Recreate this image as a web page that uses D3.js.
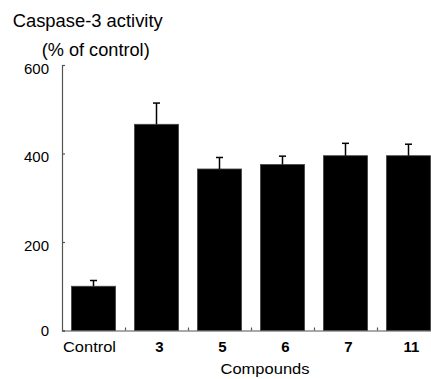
<!DOCTYPE html>
<html>
<head>
<meta charset="utf-8">
<script src="https://cdn.jsdelivr.net/npm/d3@7"></script>
<style>
  body { margin: 0; background: #fff; }
  svg { display: block; font-family: Arial, "Liberation Sans", sans-serif; }
</style>
</head>
<body>
<div id="chart"></div>
<script>
// data
const categories = ["Control", "3", "5", "6", "7", "11"];
const values = [100, 466, 365, 375, 395, 395];
const errors = [13, 48, 26, 19, 28, 26];
const yTicks = [0, 200, 400, 600];

const w = 431, h = 379;

let svg = d3.select("#chart")
    .append("svg")
    .attr("width", w)
    .attr("height", h);

// plot area (the right edge of the original runs off the page)
const x0 = 62, x1 = 440;
const y0 = 330.5, y1 = 65;

const x = d3.scaleBand()
    .domain(categories)
    .range([x0, x1])
    .paddingInner(0.3)
    .paddingOuter(0.15);

const xEdge = d3.scaleLinear()
    .domain([0, categories.length])
    .range([x0, x1]);

const y = d3.scaleLinear()
    .domain([0, 600])
    .range([y0, y1]);

// bars
svg.append("g")
    .selectAll("rect")
    .data(values)
    .join("rect")
    .attr("x", (d, i) => x(categories[i]))
    .attr("y", d => y(d))
    .attr("width", x.bandwidth())
    .attr("height", d => y(0) - y(d))
    .attr("fill", "#000")
    .attr("stroke", "#444")
    .attr("stroke-width", 0.8);

// error bars (upper only)
const err = svg.append("g")
    .attr("stroke", "#000")
    .attr("stroke-width", 1.5);

err.selectAll("line.v")
    .data(values)
    .join("line")
    .attr("class", "v")
    .attr("x1", (d, i) => x(categories[i]) + x.bandwidth() / 2)
    .attr("x2", (d, i) => x(categories[i]) + x.bandwidth() / 2)
    .attr("y1", d => y(d))
    .attr("y2", (d, i) => y(d + errors[i]));

err.selectAll("line.cap")
    .data(values)
    .join("line")
    .attr("class", "cap")
    .attr("x1", (d, i) => x(categories[i]) + x.bandwidth() / 2 - 3.5)
    .attr("x2", (d, i) => x(categories[i]) + x.bandwidth() / 2 + 3.5)
    .attr("y1", (d, i) => y(d + errors[i]))
    .attr("y2", (d, i) => y(d + errors[i]));

// y axis, ticks pointing inward
const yAxis = svg.append("g")
    .attr("transform", `translate(${x0},0)`)
    .call(d3.axisLeft(y)
        .tickValues(yTicks)
        .tickSize(-3)
        .tickPadding(13)
        .tickFormat(d3.format("d")));

yAxis.selectAll("text")
    .attr("font-size", 15)
    .attr("font-family", "Arial, 'Liberation Sans', sans-serif")
    .attr("fill", "#000")
    .attr("dy", d => d === 0 ? "0.35em" : "0.55em");

// x axis: ticks between the bars
const xAxis = svg.append("g")
    .attr("transform", `translate(0,${y0})`)
    .call(d3.axisBottom(xEdge)
        .tickValues(d3.range(1, categories.length))
        .tickSize(-3)
        .tickSizeOuter(0)
        .tickFormat(""));

svg.selectAll(".domain, .tick line")
    .attr("stroke", "#555")
    .attr("stroke-width", 1.2);

// category labels
svg.append("g")
    .selectAll("text")
    .data(categories)
    .join("text")
    .attr("x", d => x(d) + x.bandwidth() / 2 + (d === "Control" ? -4 : 3))
    .attr("y", 352)
    .attr("text-anchor", "middle")
    .attr("font-size", 15)
    .attr("font-weight", d => d === "Control" ? "normal" : "bold")
    .attr("textLength", d => d === "Control" ? 53 : null)
    .attr("lengthAdjust", "spacingAndGlyphs")
    .text(d => d);

// axis titles
svg.append("text")
    .attr("x", 265)
    .attr("y", 374)
    .attr("text-anchor", "middle")
    .attr("font-size", 15.5)
    .attr("textLength", 89)
    .attr("lengthAdjust", "spacingAndGlyphs")
    .text("Compounds");

svg.append("text")
    .attr("x", 12.7)
    .attr("y", 27)
    .attr("font-size", 17.5)
    .attr("textLength", 150)
    .attr("lengthAdjust", "spacingAndGlyphs")
    .text("Caspase-3 activity");

svg.append("text")
    .attr("x", 41.7)
    .attr("y", 56)
    .attr("font-size", 17.5)
    .attr("textLength", 108)
    .attr("lengthAdjust", "spacingAndGlyphs")
    .text("(% of control)");
</script>
</body>
</html>
